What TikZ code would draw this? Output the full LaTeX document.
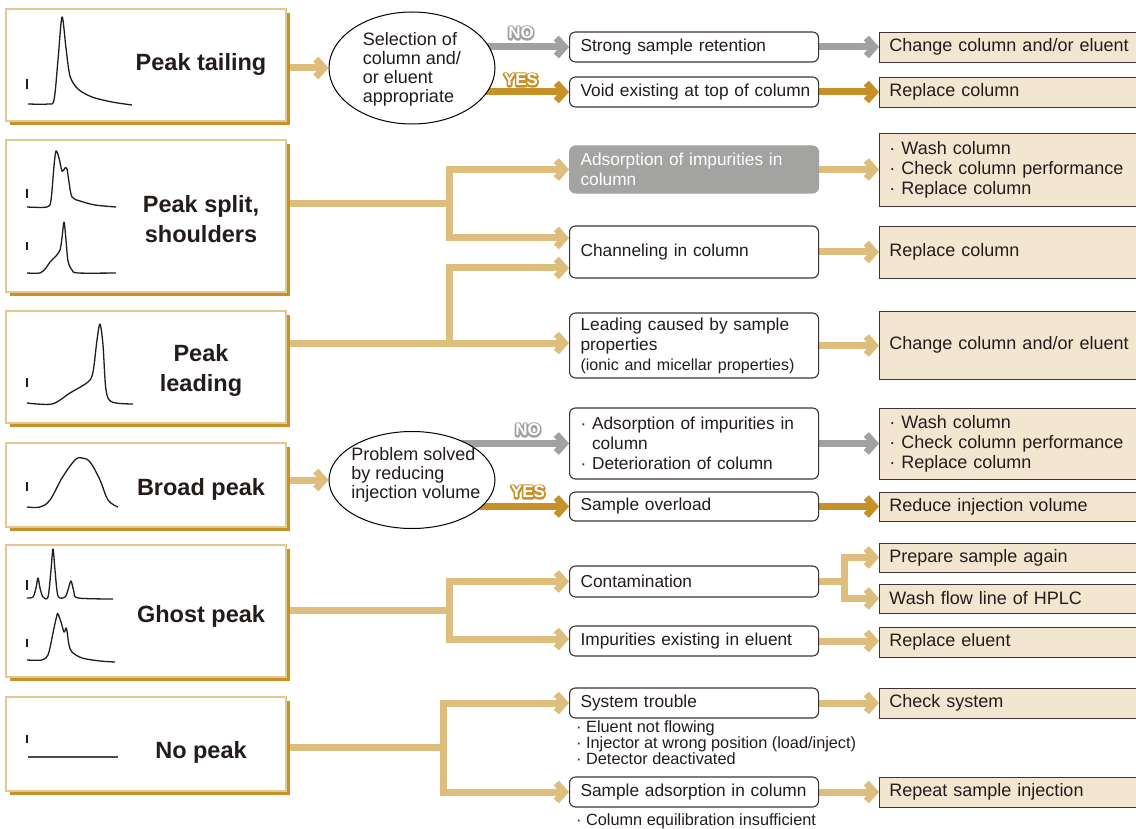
\documentclass[tikz,border=0pt]{standalone}
\usepackage{fontspec}
\setmainfont{Liberation Sans}
\usetikzlibrary{arrows.meta,shapes.geometric,shadows,calc}

\definecolor{ink}{RGB}{35,28,26}
\definecolor{edge}{RGB}{60,52,50}
\definecolor{lgold}{RGB}{222,190,125}
\definecolor{lgoldedge}{RGB}{228,200,145}
\definecolor{dgold}{RGB}{200,145,40}
\definecolor{arrgray}{RGB}{160,162,160}
\definecolor{boxgray}{RGB}{163,163,162}
\definecolor{beige}{RGB}{243,230,208}

\pgfdeclarelayer{wires}
\pgfsetlayers{wires,main}

% outlined badge lettering: a stroked copy underneath, the white letters on top
\newcommand\hollowword[2]{%
  \makebox[0pt][l]{\textcolor{#1}{\special{pdf:literal direct 2 Tr 3.4 w 1 j}#2\special{pdf:literal direct 0 Tr 1 w}}}%
  \textcolor{white}{#2}}

\begin{document}
\begin{tikzpicture}[x=1pt,y=-1pt,
  txt/.style={font=\fontsize{18}{20}\selectfont, text=ink},
  mid/.style={font=\fontsize{17.3}{20}\selectfont, text=ink, draw=edge, line width=1.1pt, rounded corners=6pt, fill=white,
    text width=227pt, inner xsep=11pt, inner ysep=2pt, align=left, anchor=west},
  greymid/.style={mid, fill=boxgray, draw=boxgray, text=white},
  sol/.style={txt, draw=edge, line width=0.9pt, fill=beige,
    text width=240pt, inner xsep=10pt, inner ysep=2pt, align=left, anchor=west},
  lbox/.style={draw=lgoldedge, line width=1.3pt, fill=white, minimum width=280pt, inner sep=0pt,
    drop shadow={shadow xshift=4pt, shadow yshift=-4pt, fill=dgold, opacity=1}},
  title/.style={font=\bfseries\fontsize{23.5}{30}\selectfont, text=ink, align=center},
  trace/.style={line width=1.3pt, draw=ink, line join=round},
  tickmark/.style={line width=1.1pt, draw=ink},
  question/.style={ellipse, draw=black, line width=1pt, fill=white, inner sep=0pt},
  qtext/.style={font=\fontsize{18}{19}\selectfont, text=ink, align=left},
  pipe/.style={line width=7pt, draw=lgold},
  flow/.style={pipe, -{Straight Barb[length=8pt,width=18pt]}},
  noflow/.style={flow, draw=arrgray},
  yesflow/.style={flow, draw=dgold},
  badge/.style={font=\bfseries\fontsize{17}{17}\selectfont, inner sep=0pt},
  note/.style={font=\fontsize{16.3}{16}\selectfont, text=ink, align=left, inner sep=0pt, anchor=north west}
]
\useasboundingbox (0,0) rectangle (1136,829);
\clip (0,0) rectangle (1136,829);

% ---------- symptom boxes ----------
\node[lbox, minimum height=112pt] (t1) at (146,65) {};
\node[lbox, minimum height=152pt] (t2) at (146,216) {};
\node[lbox, minimum height=112pt] (t3) at (146,367) {};
\node[lbox, minimum height=84pt]  (t4) at (146,485) {};
\node[lbox, minimum height=132pt] (t5) at (146,611) {};
\node[lbox, minimum height=94pt]  (t6) at (146,744) {};

\node[title] (l1) at (201,64)  {Peak tailing};
\node[title] (l2) at (201,219) {Peak split,\\shoulders};
\node[title] (l3) at (201,370) {Peak\\leading};
\node[title] (l4) at (201,489) {Broad peak};
\node[title] (l5) at (201,616) {Ghost peak};
\node[title] (l6) at (201,752) {No peak};

% ---------- chromatograms ----------
% peak tailing
\draw[tickmark] (27,79) -- (27,89);
\draw[trace] plot[smooth, tension=0.5] coordinates {(28,104) (48,104) (54,100) (58,60) (62,17) (66,48) (70,76) (78,89) (92,97) (112,102) (132,105)};
% peak split
\draw[tickmark] (27,189) -- (27,198);
\draw[trace] plot[smooth, tension=0.5] coordinates {(27,207) (47,207) (51,200) (54,166) (56,151) (59,158) (62,171) (65,168) (67,169) (69,182) (72,197) (80,201) (95,205) (116,207)};
% shoulder
\draw[tickmark] (27,242) -- (27,250);
\draw[trace] plot[smooth, tension=0.5] coordinates {(27,273) (40,273) (46,268) (50,262) (56,256) (60,250) (62,238) (64,222) (66,240) (68,261) (72,270) (78,273) (116,273)};
% peak leading
\draw[tickmark] (27,378) -- (27,387);
\draw[trace] plot[smooth, tension=0.5] coordinates {(27,403) (52,404) (70,393) (88,382) (93,372) (97,340) (100,324) (103,345) (106,390) (112,402) (133,404)};
% broad peak
\draw[tickmark] (27,482) -- (27,491);
\draw[trace] plot[smooth, tension=0.6] coordinates {(27,507) (40,507) (50,500) (62,478) (75,460) (82,458) (90,462) (100,480) (108,500) (118,507)};
% ghost peaks
\draw[tickmark] (27,580) -- (27,590);
\draw[trace] plot[smooth, tension=0.5] coordinates {(27,598) (33,597) (36,588) (38,578) (40,588) (43,597) (48,597) (51,570) (53,549) (55,570) (58,596) (65,597) (68,590) (71,581) (74,592) (78,598) (113,599)};
\draw[tickmark] (27,639) -- (27,647);
\draw[trace] plot[smooth, tension=0.5] coordinates {(27,660) (42,660) (48,655) (52,638) (54,628) (57,615) (58,614) (61,622) (64,632) (66,628) (67,631) (69,645) (72,652) (82,658) (100,661) (115,662)};
% no peak
\draw[tickmark] (27,735) -- (27,743);
\draw[trace, draw=ink!80] (28,757) -- (118,757);

% ---------- decisions ----------
\node[question, minimum width=166pt, minimum height=112pt] (q1) at (412,68) {};
\node[qtext] (q1t) at (412,69) {Selection of\\column and/\\or eluent\\appropriate};
\node[question, minimum width=166pt, minimum height=97pt] (q2) at (412,480) {};
\node[qtext] (q2t) at (416,475) {Problem solved\\by reducing\\injection volume};

\node[badge] (no1)  at (521,33)  {\hollowword{arrgray}{NO}};
\node[badge] (yes1) at (521,80)  {\hollowword{dgold}{YES}};
\node[badge] (no2)  at (528,430) {\hollowword{arrgray}{NO}};
\node[badge] (yes2) at (528,492) {\hollowword{dgold}{YES}};

% ---------- causes ----------
\node[mid, minimum height=30pt] (m1) at (569,47) {Strong sample retention};
\node[mid, minimum height=30pt] (m2) at (569,92) {\mbox{Void existing at top of column}};
\node[greymid, minimum height=47pt] (m3) at (569,169.5) {Adsorption of impurities in\\column};
\node[mid, minimum height=52pt] (m4) at (569,252) {Channeling in column};
\node[mid, minimum height=65pt] (m5) at (569,345.5) {Leading caused by sample\\properties\\{\fontsize{16}{20}\selectfont (ionic and micellar properties)}};
\node[mid, minimum height=71pt] (m6) at (569,443.5) {· Adsorption of impurities in\\\phantom{· }column\\· Deterioration of column};
\node[mid, minimum height=29pt] (m7) at (569,506.5) {Sample overload};
\node[mid, minimum height=31pt] (m8) at (569,581.5) {Contamination};
\node[mid, minimum height=30pt] (m9) at (569,641) {Impurities existing in eluent};
\node[mid, minimum height=30pt] (m10) at (569,703) {System trouble};
\node[mid, minimum height=30pt] (m11) at (569,792) {\mbox{Sample adsorption in column}};

\node[note] (n1) at (576,720) {· Eluent not flowing\\· Injector at wrong position (load/inject)\\· Detector deactivated};
\node[note] (n2) at (576,813) {· Column equilibration insufficient};

% ---------- remedies ----------
\node[sol, minimum height=30pt] (s1) at (879,47) {Change column and/or eluent};
\node[sol, minimum height=30pt] (s2) at (879,92) {Replace column};
\node[sol, minimum height=73pt] (s3) at (879,169.5) {· Wash column\\· Check column performance\\· Replace column};
\node[sol, minimum height=52pt] (s4) at (879,252) {Replace column};
\node[sol, minimum height=68pt] (s5) at (879,345) {Change column and/or eluent};
\node[sol, minimum height=71pt] (s6) at (879,443.5) {· Wash column\\· Check column performance\\· Replace column};
\node[sol, minimum height=29pt] (s7) at (879,506.5) {Reduce injection volume};
\node[sol, minimum height=29pt] (s8) at (879,557.5) {Prepare sample again};
\node[sol, minimum height=29pt] (s9) at (879,598.5) {Wash flow line of HPLC};
\node[sol, minimum height=30pt] (s10) at (879,642) {Replace eluent};
\node[sol, minimum height=30pt] (s11) at (879,703) {Check system};
\node[sol, minimum height=30pt] (s12) at (879,792) {Repeat sample injection};

% ---------- connectors ----------
\begin{pgfonlayer}{wires}
  % peak tailing
  \draw[flow] (t1.east |- q1) -- (q1.west);
  \draw[noflow] (q1.center |- m1.west) -- (m1.west);
  \draw[yesflow] (q1.center |- m2.west) -- (m2.west);
  \draw[noflow] (m1.east) -- (s1.west);
  \draw[yesflow] (m2.east) -- (s2.west);
  % peak split
  \coordinate (j2) at (449,204);
  \draw[pipe] (t2.east |- j2) -- (j2);
  \draw[flow] (j2) |- (m3.west);
  \draw[flow] (j2) |- ([yshift=14pt]m4.west);
  % peak leading
  \coordinate (j3) at (449,343);
  \draw[pipe] (t3.east |- j3) -- (j3);
  \draw[flow] (j3) |- ([yshift=-16pt]m4.west);
  \draw[flow] (j3) -- (j3 -| m5.west);
  \draw[flow] (m3.east) -- (s3.west);
  \draw[flow] (m4.east) -- (s4.west);
  \draw[flow] (m5.east) -- (m5.east -| s5.west);
  % broad peak
  \draw[flow] (t4.east |- q2) -- (q2.west);
  \draw[noflow] (q2.center |- m6.west) -- (m6.west);
  \draw[yesflow] (q2.center |- m7.west) -- (m7.west);
  \draw[noflow] (m6.east) -- (s6.west);
  \draw[yesflow] (m7.east) -- (s7.west);
  % ghost peak
  \coordinate (j5) at (449,610);
  \draw[pipe] (t5.east |- j5) -- (j5);
  \draw[flow] (j5) |- (m8.west);
  \draw[flow] (j5) |- ([yshift=2pt]m9.west);
  \coordinate (j7) at (844,581.5);
  \draw[pipe] (m8.east) -- (j7);
  \draw[flow] (j7) |- (s8.west);
  \draw[flow] (j7) |- (s9.west);
  \draw[flow] (m9.east) -- (m9.east -| s10.west);
  % no peak
  \coordinate (j6) at (443,747);
  \draw[pipe] (t6.east |- j6) -- (j6);
  \draw[flow] (j6) |- (m10.west);
  \draw[flow] (j6) |- (m11.west);
  \draw[flow] (m10.east) -- (s11.west);
  \draw[flow] (m11.east) -- (s12.west);
\end{pgfonlayer}
\end{tikzpicture}
\end{document}
